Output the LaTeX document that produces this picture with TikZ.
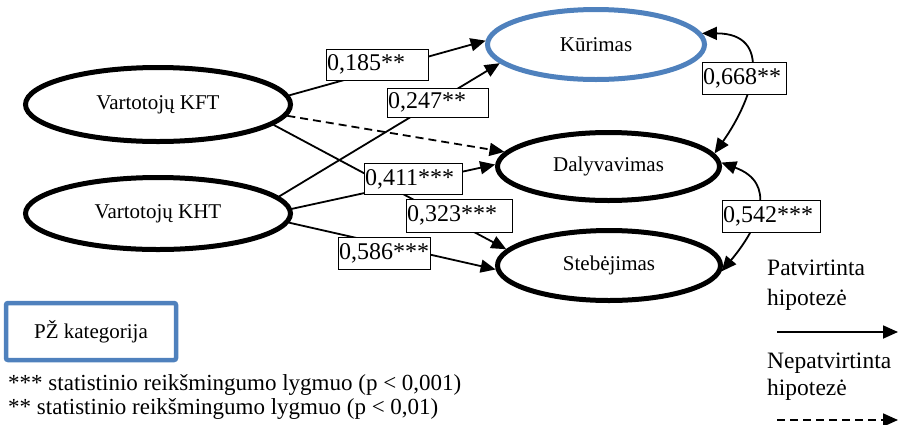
\documentclass[tikz,border=0pt]{standalone}
\usepackage{fontspec}
\setmainfont{Liberation Serif}
\usetikzlibrary{arrows.meta,shapes.geometric}
\definecolor{wblue}{RGB}{79,129,189}
\tikzset{
  factor/.style={ellipse,draw=black,line width=5pt,inner sep=0pt,font=\fontsize{21}{24}\selectfont},
  lbl/.style={draw=black,line width=1pt,fill=white,inner xsep=1pt,inner ysep=0pt,align=left,font=\fontsize{24}{26}\selectfont},
  tip/.style={Triangle[length=15pt,width=13pt]},
  arr/.style={line width=1.8pt,-{Triangle[length=15pt,width=13pt]}},
  barr/.style={line width=1.8pt,{Triangle[length=15pt,width=13pt]}-{Triangle[length=15pt,width=13pt]}},
  dsh/.style={dash pattern=on 8pt off 5pt},
  legtxt/.style={inner sep=0pt,anchor=base west,font=\fontsize{23.5}{26}\selectfont},
}
\begin{document}
\begin{tikzpicture}[x=1pt,y=1pt]
\useasboundingbox (0,0) rectangle (899,-424);
% factors
\node[factor,minimum width=265pt,minimum height=74pt] (kft) at (158,-104.5) {Vartotojų KFT};
\node[factor,minimum width=265pt,minimum height=72pt] (kht) at (158,-213.5) {Vartotojų KHT};
\node[factor,draw=wblue,minimum width=217pt,minimum height=70pt] (kur) at (596,-44.5) {Kūrimas};
\node[factor,minimum width=222pt,minimum height=68pt] (dal) at (608.5,-166.5) {Dalyvavimas};
\node[factor,minimum width=223pt,minimum height=70pt] (ste) at (609,-265.5) {Stebėjimas};
% paths
\draw[arr] (kft.4.5) -- (kur.178.7);
\draw[arr] (kht.8.4) -- (kur.191);
\draw[arr,dsh] (kft.-5) -- (dal.172);
\draw[arr] (kft.-10) -- (ste.171.3);
\draw[arr] (kht.2) -- (dal.179.2);
\draw[arr] (kht.-4) -- (ste.182.3);
\draw[barr] (kur.6) to[out=0,in=55,looseness=1.5] (dal.7);
\draw[barr] (dal.2) to[out=-20,in=50,looseness=1.4] (ste.-3);
% labels
\node[lbl,text width=100pt,minimum height=31pt] (l1) at (377,-64.5) {0,185**};
\node[lbl,text width=99pt,minimum height=29pt] (l2) at (437.5,-102.5) {0,247**};
\node[lbl,text width=96pt,minimum height=31pt] (l3) at (413,-179) {0,411***};
\node[lbl,text width=104pt,minimum height=33pt] (l4) at (459,-215.5) {0,323***};
\node[lbl,text width=90pt,minimum height=32pt] (l5) at (384,-253) {0,586***};
\node[lbl,text width=82pt,minimum height=32pt] (l6) at (744,-78) {0,668**};
\node[lbl,text width=96pt,minimum height=32pt] (l7) at (771,-216) {0,542***};
% legend
\node[draw=wblue,line width=4.5pt,rounded corners=2pt,minimum width=170pt,minimum height=57pt,inner sep=0pt,font=\fontsize{21}{24}\selectfont] (pz) at (91,-331.5) {PŽ kategorija};
\node[legtxt,font=\fontsize{23}{26}\selectfont] (s3) at (8,-390) {*** statistinio reikšmingumo lygmuo (p < 0,001)};
\node[legtxt,font=\fontsize{23}{26}\selectfont] (s2) at (8,-414) {** statistinio reikšmingumo lygmuo (p < 0,01)};
\node[legtxt] (pt1) at (767,-275) {Patvirtinta};
\node[legtxt] (pt2) at (767,-305) {hipotezė};
\node[legtxt] (np1) at (767,-368) {Nepatvirtinta};
\node[legtxt] (np2) at (767,-395) {hipotezė};
\coordinate (a1) at (777,-332);
\coordinate (a2) at (898,-332);
\coordinate (b1) at (777,-420);
\coordinate (b2) at (898,-420);
\draw[arr] (a1) -- (a2);
\draw[arr,dsh] (b1) -- (b2);
\end{tikzpicture}
\end{document}
